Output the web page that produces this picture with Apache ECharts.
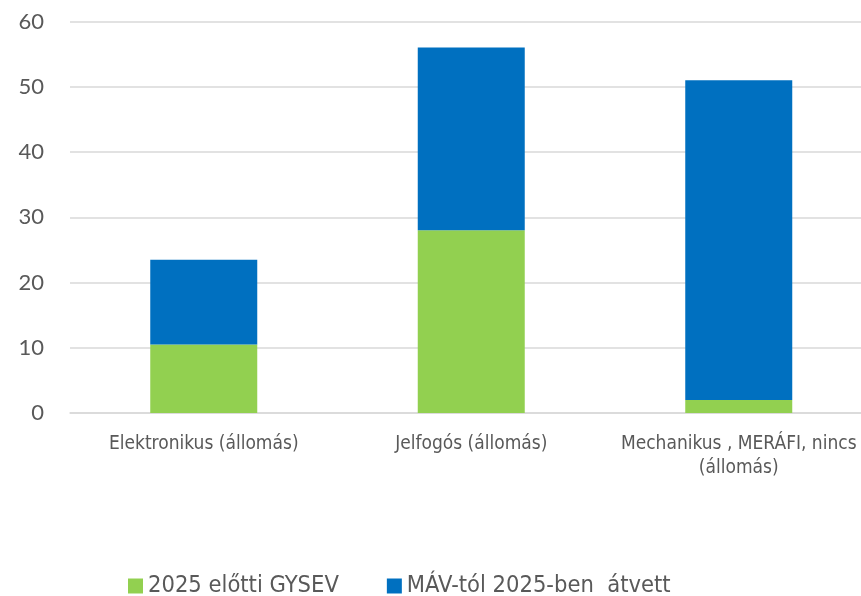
<!DOCTYPE html>
<html><head><meta charset="utf-8">
<script src="https://cdn.jsdelivr.net/npm/echarts@6/dist/echarts.min.js"></script>
<style>html,body{margin:0;padding:0;background:#fff}#c{width:861px;height:596px}</style>
</head><body><div id="c"></div>
<script>
const categories = ["Elektronikus (állomás)", "Jelfogós (állomás)", "Mechanikus , MERÁFI, nincs\n(állomás)"];
const seriesNames = ["2025 előtti GYSEV", "MÁV-tól 2025-ben  átvett"];
const gysevValues = [10.5, 28, 2];
const mavValues = [13, 28, 49];
const yTicks = [0, 10, 20, 30, 40, 50, 60];

const narrow = "'DejaVu Sans Condensed', 'Liberation Sans Narrow', Lato";
const chart = echarts.init(document.getElementById('c'), null, {renderer: 'canvas'});
chart.setOption({
  animation: false,
  grid: {left: 70, width: 802.5, top: 21.5, height: 391.5, containLabel: false, outerBoundsMode: 'none'},
  legend: {
    top: 569, left: 123,
    itemWidth: 15, itemHeight: 15, itemGap: 48,
    icon: 'rect',
    textStyle: {fontFamily: narrow, fontSize: 23.5, color: '#595959'},
    data: seriesNames
  },
  xAxis: {
    type: 'category', data: categories,
    axisLine: {show: true, lineStyle: {color: '#d9d9d9', width: 1.5}},
    axisTick: {show: false},
    axisLabel: {fontFamily: narrow, fontSize: 19, color: '#595959', margin: 19, lineHeight: 24, interval: 0,
      overflow: 'none'}
  },
  yAxis: {
    type: 'value', min: yTicks[0], max: yTicks[yTicks.length - 1], interval: 10,
    axisLine: {show: false}, axisTick: {show: false},
    splitLine: {lineStyle: {color: '#d9d9d9', width: 1.5}},
    axisLabel: {fontFamily: 'Lato', fontSize: 22, color: '#595959', margin: 26}
  },
  series: [
    {name: seriesNames[0], type: 'bar', stack: 'a', data: gysevValues, barWidth: '40%',
     itemStyle: {color: '#92D050'}},
    {name: seriesNames[1], type: 'bar', stack: 'a', data: mavValues, barWidth: '40%',
     itemStyle: {color: '#0070C0'}}
  ]
});
</script></body></html>
